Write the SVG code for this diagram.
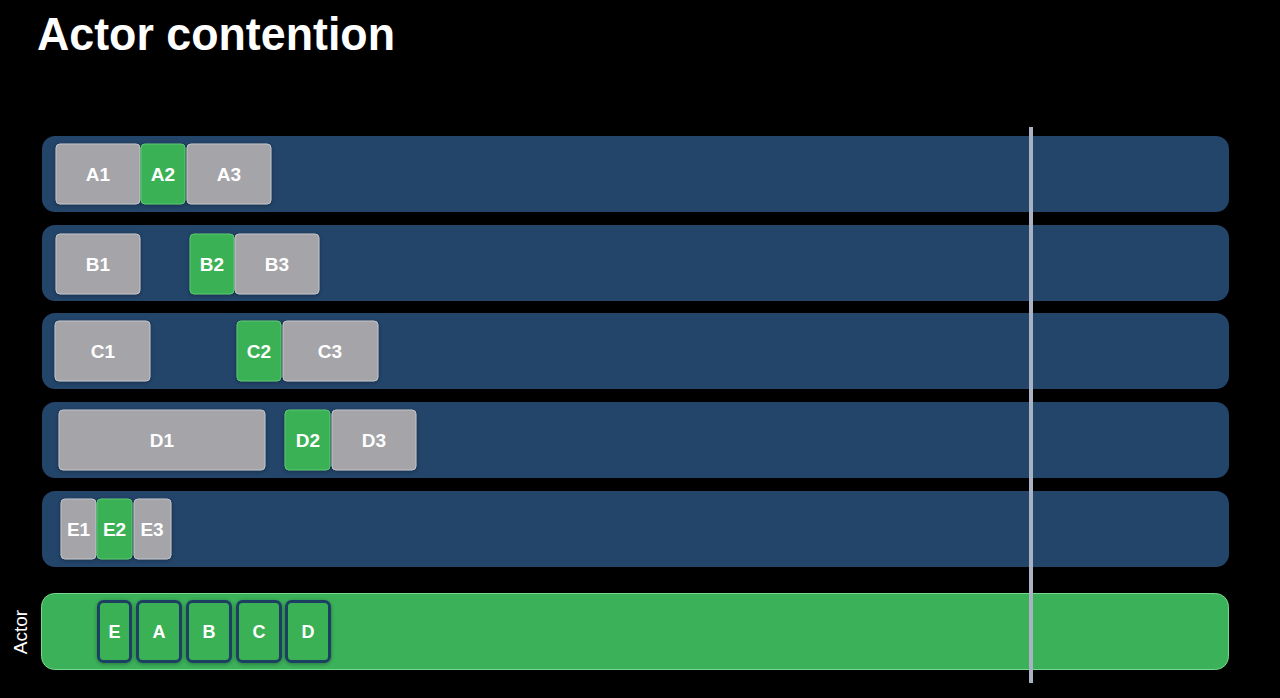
<svg xmlns="http://www.w3.org/2000/svg" width="1280" height="698" viewBox="0 0 1280 698">
<defs>
<style>
.lane{fill:#23456a;}
.task{fill:#a4a4a9;stroke:#c4c4c8;stroke-width:1;}
.run{fill:#3bb157;stroke:#5cc873;stroke-width:1;}
.slot{fill:#3bb157;stroke:#1f3f62;stroke-width:3;}
.lbl{font-family:"Liberation Sans",Arial,sans-serif;font-weight:bold;font-size:19px;fill:#ffffff;text-anchor:middle;dominant-baseline:central;}
.slbl{font-family:"Liberation Sans",Arial,sans-serif;font-weight:bold;font-size:18px;fill:#ffffff;text-anchor:middle;dominant-baseline:central;}
.albl{font-family:"Liberation Sans",Arial,sans-serif;font-size:19px;fill:#ffffff;text-anchor:middle;dominant-baseline:central;}
</style>
<filter id="sh" x="-20%" y="-20%" width="140%" height="140%">
<feDropShadow dx="0" dy="1" stdDeviation="2" flood-color="#000" flood-opacity="0.35"/>
</filter>
</defs>
<rect width="1280" height="698" fill="#000"/>
<text x="37" y="50" font-family="Liberation Sans,Arial,sans-serif" font-weight="bold" font-size="46" fill="#fff" textLength="358" lengthAdjust="spacingAndGlyphs">Actor contention</text>

<g id="laneA">
<rect class="lane" x="42" y="136" width="1187" height="76" rx="13"/>
<g filter="url(#sh)">
<rect class="task" x="56" y="144" width="84" height="60" rx="4"/>
<rect class="run" x="141" y="144" width="44" height="60" rx="4"/>
<rect class="task" x="187" y="144" width="84" height="60" rx="4"/>
</g>
<text class="lbl" x="98" y="174">A1</text>
<text class="lbl" x="163" y="174">A2</text>
<text class="lbl" x="229" y="174">A3</text>
</g>

<g id="laneB">
<rect class="lane" x="42" y="225" width="1187" height="76" rx="13"/>
<g filter="url(#sh)">
<rect class="task" x="56" y="234" width="84" height="60" rx="4"/>
<rect class="run" x="190" y="234" width="44" height="60" rx="4"/>
<rect class="task" x="235" y="234" width="84" height="60" rx="4"/>
</g>
<text class="lbl" x="98" y="264">B1</text>
<text class="lbl" x="212" y="264">B2</text>
<text class="lbl" x="277" y="264">B3</text>
</g>

<g id="laneC">
<rect class="lane" x="42" y="313" width="1187" height="76" rx="13"/>
<g filter="url(#sh)">
<rect class="task" x="55" y="321" width="95" height="60" rx="4"/>
<rect class="run" x="237" y="321" width="44" height="60" rx="4"/>
<rect class="task" x="283" y="321" width="95" height="60" rx="4"/>
</g>
<text class="lbl" x="103" y="351">C1</text>
<text class="lbl" x="259" y="351">C2</text>
<text class="lbl" x="330" y="351">C3</text>
</g>

<g id="laneD">
<rect class="lane" x="42" y="402" width="1187" height="76" rx="13"/>
<g filter="url(#sh)">
<rect class="task" x="59" y="410" width="206" height="60" rx="4"/>
<rect class="run" x="285" y="410" width="45" height="60" rx="4"/>
<rect class="task" x="332" y="410" width="84" height="60" rx="4"/>
</g>
<text class="lbl" x="162" y="440">D1</text>
<text class="lbl" x="308" y="440">D2</text>
<text class="lbl" x="374" y="440">D3</text>
</g>

<g id="laneE">
<rect class="lane" x="42" y="491" width="1187" height="76" rx="13"/>
<g filter="url(#sh)">
<rect class="task" x="61" y="499" width="35" height="60" rx="4"/>
<rect class="run" x="97" y="499" width="35" height="60" rx="4"/>
<rect class="task" x="134" y="499" width="37" height="60" rx="4"/>
</g>
<text class="lbl" x="78.5" y="529">E1</text>
<text class="lbl" x="114.5" y="529">E2</text>
<text class="lbl" x="152" y="529">E3</text>
</g>

<g id="actor">
<rect x="41.5" y="593.5" width="1187" height="76" rx="13" fill="#3bb25a" stroke="#79d98a" stroke-width="1"/>
<text class="albl" transform="translate(20,632) rotate(-90)">Actor</text>
<g filter="url(#sh)">
<rect class="slot" x="98.5" y="601.5" width="32" height="60" rx="5"/>
<rect class="slot" x="137.5" y="601.5" width="43" height="60" rx="5"/>
<rect class="slot" x="187.5" y="601.5" width="43" height="60" rx="5"/>
<rect class="slot" x="237.5" y="601.5" width="43" height="60" rx="5"/>
<rect class="slot" x="286.5" y="601.5" width="43" height="60" rx="5"/>
</g>
<text class="slbl" x="114.5" y="632">E</text>
<text class="slbl" x="159" y="632">A</text>
<text class="slbl" x="209" y="632">B</text>
<text class="slbl" x="259" y="632">C</text>
<text class="slbl" x="308" y="632">D</text>
</g>

<g id="connectors">
<rect x="1029" y="127" width="4" height="556" fill="#a9b2c2"/>
</g>
</svg>
